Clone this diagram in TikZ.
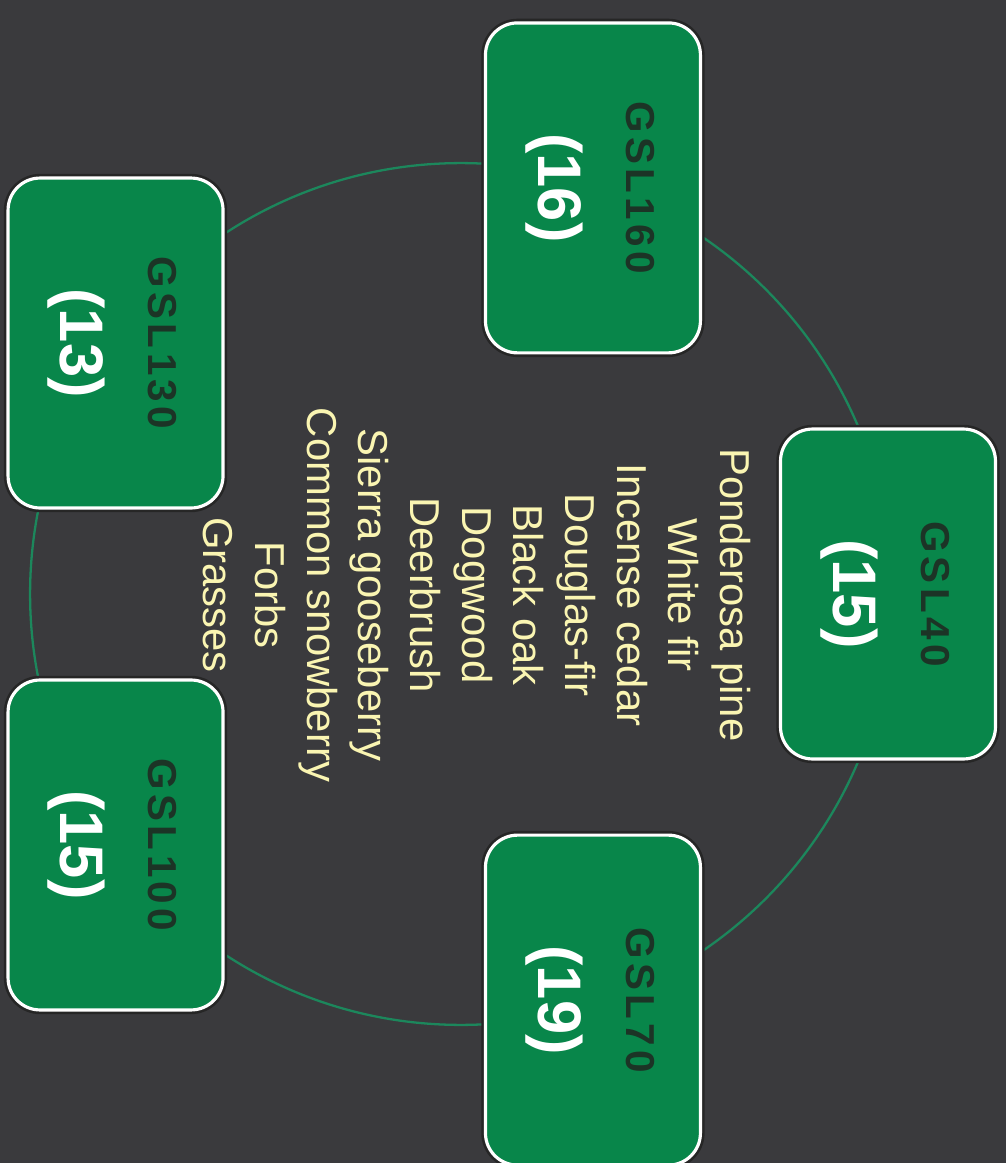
\documentclass[tikz,border=0pt]{standalone}
\usepackage{fontspec}
\setmainfont{Liberation Sans}
\usetikzlibrary{positioning}
\definecolor{slate}{RGB}{58,58,61}
\definecolor{signgreen}{RGB}{8,134,74}
\definecolor{ringgreen}{RGB}{28,135,92}
\definecolor{darklabel}{RGB}{28,52,38}
\definecolor{listyellow}{RGB}{250,245,178}

\begin{document}
\begin{tikzpicture}[x=0.02cm, y=0.02cm,
  sign/.style={draw=white, line width=1.8pt, fill=signgreen, rounded corners=0.64cm, minimum width=6.6cm, minimum height=4.3cm, preaction={draw=black!85, line width=4.8pt}},
  code/.style={font=\fontsize{23}{23}\selectfont\bfseries\addfontfeature{LetterSpace=11}, text=darklabel, inner sep=0pt},
  cnt/.style={font=\fontsize{35}{35}\selectfont\bfseries, text=white, inner sep=0pt},
  species/.style={font=\fontsize{23.8}{29.4}\selectfont, text=listyellow, align=center, inner sep=0pt}]
  \fill[slate] (-461,-569) rectangle (545,594);
  \useasboundingbox (-461,-569) rectangle (545,594);
  \coordinate (c) at (0,0);
  \draw[ringgreen, line width=1.3pt] (c) circle (8.62cm);
  \foreach \a/\n/\k in {0/40/15, 72/160/16, 144/130/13, 216/100/15, 288/70/19} {
    \begin{scope}[shift={(\a:427)}, rotate=-90, transform shape]
      \node[sign] (gsl\n) at (0,0) {};
      \node[code] (gsl\n-code) at (0,47) {GSL\n};
      \node[cnt] (gsl\n-cnt) at (0,-39) {(\k)};
    \end{scope}
  }
  \node[species, rotate=-90] (list) at (16,-1) {Ponderosa pine\\White fir\\Incense cedar\\Douglas-fir\\Black oak\\Dogwood\\Deerbrush\\Sierra gooseberry\\Common snowberry\\Forbs\\Grasses};
\end{tikzpicture}
\end{document}
